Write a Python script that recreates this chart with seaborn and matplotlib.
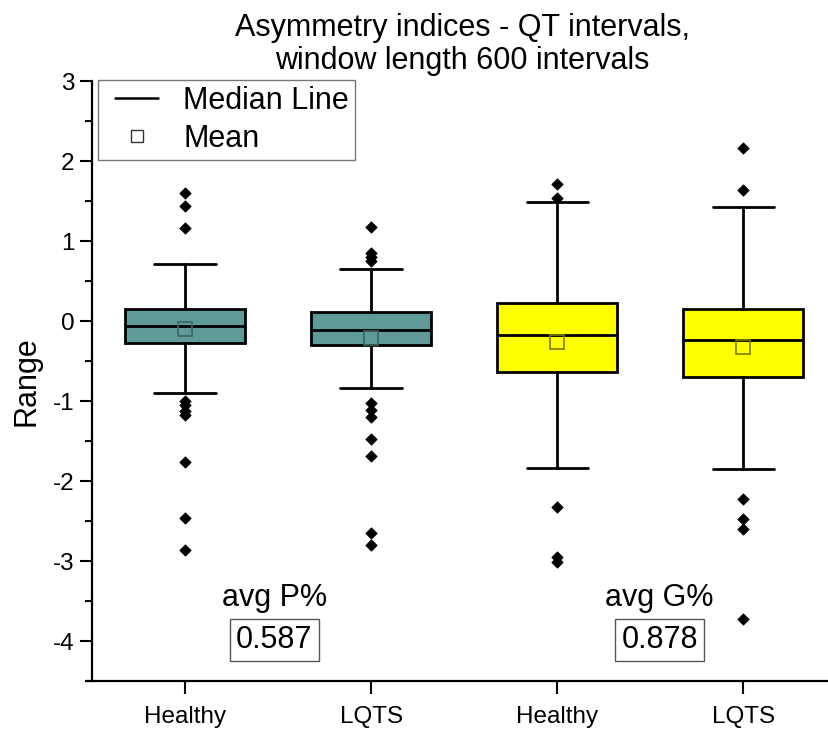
import matplotlib
matplotlib.use("Agg")
import matplotlib.pyplot as plt
from matplotlib.lines import Line2D
from matplotlib.legend_handler import HandlerLine2D
from matplotlib.ticker import MultipleLocator
import numpy as np
import pandas as pd
import seaborn as sns

# Box statistics per group (asymmetry indices of QT intervals)
groups = ["Healthy", "LQTS", "Healthy", "LQTS"]
q1 = [-0.275, -0.30, -0.64, -0.70]
medians = [-0.06, -0.11, -0.17, -0.24]
q3 = [0.15, 0.11, 0.22, 0.15]
whisker_low = [-0.90, -0.84, -1.84, -1.85]
whisker_high = [0.71, 0.65, 1.49, 1.43]
means = [-0.10, -0.21, -0.26, -0.32]
outliers = [
    [1.60, 1.44, 1.16, -1.00, -1.05, -1.12, -1.18, -1.76, -2.46, -2.86],
    [1.18, 0.85, 0.80, 0.75, -1.03, -1.11, -1.20, -1.48, -1.69, -2.65, -2.80],
    [1.71, 1.54, -2.32, -2.95, -3.01],
    [2.16, 1.64, -2.23, -2.47, -2.60, -3.73],
]
box_colors = ["#5F9A98", "#5F9A98", "#FFFF00", "#FFFF00"]
mean_edge = ["#3B6664", "#3B6664", "#7A7A00", "#7A7A00"]

summary_labels = ["avg P%", "avg G%"]
summary_values = ["0.587", "0.878"]
summary_x = [0.48, 2.55]

sns.set_style("ticks")
plt.rcParams["font.family"] = ["Liberation Sans", "DejaVu Sans"]
plt.rcParams["axes.unicode_minus"] = False
plt.rcParams["text.color"] = "black"
plt.rcParams["axes.labelcolor"] = "black"
plt.rcParams["xtick.color"] = "black"
plt.rcParams["ytick.color"] = "black"

fig = plt.figure(figsize=(8.29, 7.31), dpi=100)
ax = fig.add_axes([87 / 829, 1 - 681 / 731, (829 - 87) / 829, (681 - 81) / 731])

positions = np.arange(len(groups))
stats = []
for i in range(len(groups)):
    stats.append(dict(med=medians[i], q1=q1[i], q3=q3[i],
                      whislo=whisker_low[i], whishi=whisker_high[i],
                      mean=means[i], fliers=[]))

bp = ax.bxp(stats, positions=positions, widths=0.645, patch_artist=True,
            showfliers=False, showmeans=False, manage_ticks=False,
            boxprops=dict(linewidth=2.0, edgecolor="black"),
            medianprops=dict(color="black", linewidth=2.0),
            whiskerprops=dict(color="black", linewidth=2.0),
            capprops=dict(color="black", linewidth=2.0),
            capwidths=0.33)
for patch, c in zip(bp["boxes"], box_colors):
    patch.set_facecolor(c)

# outlier points
flier_df = pd.DataFrame(
    [(positions[i], v) for i, vals in enumerate(outliers) for v in vals],
    columns=["pos", "value"])
sns.scatterplot(data=flier_df, x="pos", y="value", marker="D", s=34,
                color="black", edgecolor="black", linewidth=0.5, ax=ax,
                zorder=4, legend=False)

# mean markers
for i in range(len(groups)):
    ax.plot(positions[i], means[i], marker="s", markersize=9.5,
            markerfacecolor="none", markeredgecolor=mean_edge[i],
            markeredgewidth=1.2, zorder=5)

ax.set_xlim(-0.527, 3.46)
ax.set_ylim(-4.5, 3)
ax.set_xticks(positions)
ax.set_xticklabels(groups, fontsize=17.5)
ax.set_xlabel("")
ax.yaxis.set_major_locator(MultipleLocator(1))
ax.yaxis.set_minor_locator(MultipleLocator(0.5))
ax.tick_params(axis="y", which="major", labelsize=17.5, length=9, width=1.5,
               direction="out")
ax.tick_params(axis="y", which="minor", length=5, width=1.5, direction="out")
ax.tick_params(axis="x", which="major", length=9, width=1.5, direction="out",
               pad=9)
ax.set_ylabel("Range", fontsize=22, labelpad=8)

for s in ["top", "right"]:
    ax.spines[s].set_visible(False)
ax.spines["left"].set_position(("data", -0.5))
for s in ["left", "bottom"]:
    ax.spines[s].set_linewidth(1.6)
    ax.spines[s].set_color("black")

ax.set_title("Asymmetry indices - QT intervals,\nwindow length 600 intervals",
             fontsize=22, pad=9, linespacing=1.1, x=0.506)

for lab, val, x in zip(summary_labels, summary_values, summary_x):
    ax.text(x, -3.46, lab, fontsize=22, ha="center", va="center")
    ax.text(x, -3.99, val, fontsize=22, ha="center", va="center",
            bbox=dict(boxstyle="square,pad=0.2", facecolor="white",
                      edgecolor="#555555", linewidth=1.0))

handles = [
    Line2D([0], [0], color="black", linewidth=1.8),
    Line2D([0], [0], linestyle="none", marker="s", markersize=9,
           markerfacecolor="none", markeredgecolor="#333333",
           markeredgewidth=1.0),
]
leg = ax.legend(handles, ["Median Line", "Mean"], loc="upper left",
                bbox_to_anchor=(98 / 829, 1 - 80 / 731),
                bbox_transform=fig.transFigure, fontsize=22, frameon=True,
                fancybox=False, handlelength=1.76, handletextpad=0.83,
                borderpad=0.2, labelspacing=0.25, borderaxespad=0,
                handler_map={Line2D: HandlerLine2D(xpad=0.36)})
leg.get_frame().set_edgecolor("#555555")
leg.get_frame().set_linewidth(1.0)

fig.savefig("out.png", dpi=100)
